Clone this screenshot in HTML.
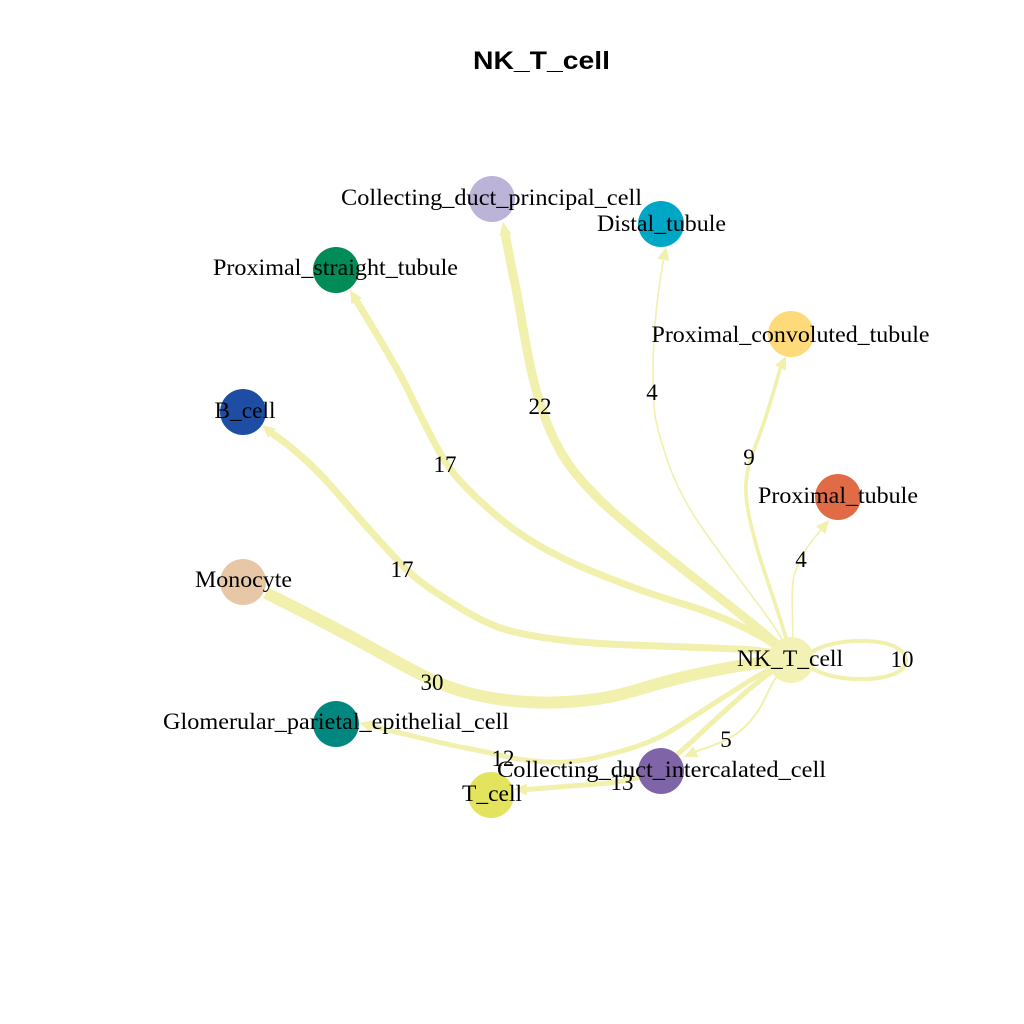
<!DOCTYPE html>
<html>
<head>
<meta charset="utf-8">
<style>
  html, body { margin:0; padding:0; background:#ffffff; }
  svg { display:block; }
  .lab { font-family: "Liberation Serif", "Times New Roman", serif; font-size:23px; fill:#000; }
  .num { font-family: "Liberation Serif", "Times New Roman", serif; font-size:23px; fill:#000; }
  .ttl { font-family: "Liberation Sans", Arial, sans-serif; font-size:25px; font-weight:bold; fill:#000; }
  .e { fill:none; stroke:#F1F0AC; stroke-linejoin:round; stroke-linecap:butt; }
  .a { fill:#F1F0AC; }
</style>
</head>
<body>
<svg width="1024" height="1024" viewBox="0 0 1024 1024" xmlns="http://www.w3.org/2000/svg">
  <rect width="1024" height="1024" fill="#ffffff"/>

  <!-- Title -->
  <text class="ttl" x="541.5" y="69" text-anchor="middle" textLength="137" lengthAdjust="spacingAndGlyphs">NK_T_cell</text>

  <!-- Edges -->
  <!-- 22 -> Collecting_duct_principal_cell -->
  <path class="e" stroke-width="9" d="M791,660 L782,650 Q773,640 746.5,619 Q720,598 700,582.5 Q680,567 646.5,540 Q613,513 599,499 Q585,485 576,474 Q567,463 560,450.5 Q553,438 548,425.5 Q543,413 538,396.5 Q533,380 529,360 Q525,340 521,316.5 Q517,293 513.5,276.5 Q510,260 507.7,247.4 L505.4,234.8"/>
  <polygon class="a" points="503,222 511.3,233.7 499.5,235.9"/>

  <!-- 17 -> Proximal_straight_tubule -->
  <path class="e" stroke-width="7" d="M791,660 L780.5,650 Q770,640 741.5,626.5 Q713,613 686.5,605 Q660,597 636.5,588.5 Q613,580 586.5,569 Q560,558 536.5,544 Q513,530 494,513.5 Q475,497 461,482 Q447,467 433.5,441 Q420,415 410,394 Q400,373 378.4,337 L356.7,301.1"/>
  <polygon class="a" points="350,290 361.8,298 351.6,304.2"/>

  <!-- 17 -> B_cell -->
  <path class="e" stroke-width="7" d="M791,660 L780.5,655 Q770,650 725,648.5 Q680,647 630,645 Q580,643 546.5,638 Q513,633 496.5,626.5 Q480,620 463.5,610 Q447,600 430,588.5 Q413,577 399,562 Q385,547 367.5,527.5 Q350,508 335,490.5 Q320,473 305,459.5 Q290,446 281,439.7 L272,433.3"/>
  <polygon class="a" points="262,425 275.8,428.7 268.2,437.9"/>

  <!-- 30 -> Monocyte -->
  <path class="e" stroke-width="12" d="M791,660 L775.5,661 Q760,662 730,667.5 Q700,673 680,678 Q660,683 635,690.5 Q610,698 585,700.5 Q560,703 540,702.5 Q520,702 501.5,699.5 Q483,697 466.5,692.5 Q450,688 433.5,680.5 Q417,673 383.5,654.5 Q350,636 325,623 Q300,610 283,601.5 L266,593"/>

  <!-- 12 -> Glomerular_parietal_epithelial_cell -->
  <path class="e" stroke-width="5" d="M791,660 L779,665 Q767,670 748.5,681.5 Q730,693 711.5,705 Q693,717 676.5,727.5 Q660,738 643.5,744 Q627,750 607,755 Q587,760 573.5,761.5 Q560,763 540,761.5 Q520,760 503.5,756 Q487,752 468.5,748.5 Q450,745 433.5,741 Q417,737 394.3,731.5 L371.6,726"/>
  <polygon class="a" points="359,723 373,720.2 370.2,731.8"/>

  <!-- 13 -> T_cell -->
  <path class="e" stroke-width="5" d="M791,660 L777,668.5 Q763,677 741.5,696 Q720,715 701.5,732.5 Q683,750 671.5,759 Q660,768 646.5,774 Q633,780 616.5,782 Q600,784 585,785 Q570,786 548.5,787.7 L527,789.5"/>
  <polygon class="a" points="514,789 527.2,783.5 526.8,795.5"/>

  <!-- 5 -> Collecting_duct_intercalated_cell -->
  <path class="e" stroke-width="2" d="M791,660 L782,670 Q773,680 766.5,695 Q760,710 750,721.5 Q740,733 727.5,739 Q715,745 705.4,748.3 L695.8,751.6"/>
  <polygon class="a" points="684,757 693.3,746.1 698.3,757.1"/>

  <!-- 4 -> Distal_tubule -->
  <path class="e" stroke-width="1.6" d="M791,660 L785.5,646.5 Q780,633 755,600 Q730,567 705,532 Q680,497 668.5,463.5 Q657,430 655,415 Q653,400 653,375 Q653,350 655,325 Q657,300 660.2,279.9 L663.4,259.7"/>
  <polygon class="a" points="666,247 669.3,260.9 657.5,258.5"/>

  <!-- 9 -> Proximal_convoluted_tubule -->
  <path class="e" stroke-width="3.6" d="M791,660 L789,650 Q787,640 780,618.5 Q773,597 765,573.5 Q757,550 751,525 Q745,500 746,483.5 Q747,467 755,447 Q763,427 771.8,397.4 L780.5,367.8"/>
  <polygon class="a" points="786,356 785.9,370.4 775.1,365.2"/>

  <!-- 4 -> Proximal_tubule -->
  <path class="e" stroke-width="1.6" d="M791,660 L792,650 Q793,640 792.5,618.5 Q792,597 792.5,587 Q793,577 796.5,568.5 Q800,560 803.5,553.5 Q807,547 813.9,538.5 L820.8,530.1"/>
  <polygon class="a" points="829,520 825.5,533.9 816.1,526.3"/>

  <!-- 10 self loop -->
  <path class="e" stroke-width="4" d="M812,652 C835,636 905,636 906,660 C906,684 835,684 812,668"/>

  <!-- Edge labels -->
  <text class="num" x="540" y="414" text-anchor="middle">22</text>
  <text class="num" x="652" y="400" text-anchor="middle">4</text>
  <text class="num" x="445" y="472" text-anchor="middle">17</text>
  <text class="num" x="402" y="577" text-anchor="middle">17</text>
  <text class="num" x="749" y="465" text-anchor="middle">9</text>
  <text class="num" x="801" y="567" text-anchor="middle">4</text>
  <text class="num" x="902" y="667" text-anchor="middle">10</text>
  <text class="num" x="726" y="747" text-anchor="middle">5</text>
  <text class="num" x="432" y="690" text-anchor="middle">30</text>
  <text class="num" x="503" y="766" text-anchor="middle">12</text>
  <text class="num" x="622" y="790" text-anchor="middle">13</text>

  <!-- Nodes -->
  <circle cx="492" cy="199" r="23" fill="#BCB4D8"/>
  <circle cx="661" cy="224" r="23" fill="#00A6C5"/>
  <circle cx="336" cy="270" r="23" fill="#008B57"/>
  <circle cx="243" cy="412" r="23" fill="#1E4EA3"/>
  <circle cx="791" cy="334" r="23" fill="#FFDA7A"/>
  <circle cx="838" cy="497" r="23" fill="#E06B46"/>
  <circle cx="243" cy="582" r="23" fill="#E8C7A7"/>
  <circle cx="791" cy="660" r="23" fill="#F3F2B4"/>
  <circle cx="336" cy="724" r="23" fill="#008880"/>
  <circle cx="661" cy="771" r="23" fill="#7F65A8"/>
  <circle cx="491" cy="795" r="23" fill="#E4E35E"/>

  <!-- Node labels -->
  <text class="lab" x="491.5" y="205" text-anchor="middle" textLength="301" lengthAdjust="spacingAndGlyphs">Collecting_duct_principal_cell</text>
  <text class="lab" x="661.5" y="231" text-anchor="middle" textLength="129" lengthAdjust="spacingAndGlyphs">Distal_tubule</text>
  <text class="lab" x="335.5" y="275" text-anchor="middle" textLength="245" lengthAdjust="spacingAndGlyphs">Proximal_straight_tubule</text>
  <text class="lab" x="245" y="418" text-anchor="middle" textLength="61" lengthAdjust="spacingAndGlyphs">B_cell</text>
  <text class="lab" x="790.5" y="342" text-anchor="middle" textLength="278" lengthAdjust="spacingAndGlyphs">Proximal_convoluted_tubule</text>
  <text class="lab" x="838" y="503" text-anchor="middle" textLength="160" lengthAdjust="spacingAndGlyphs">Proximal_tubule</text>
  <text class="lab" x="243.5" y="587" text-anchor="middle" textLength="97" lengthAdjust="spacingAndGlyphs">Monocyte</text>
  <text class="lab" x="790" y="666" text-anchor="middle" textLength="106" lengthAdjust="spacingAndGlyphs">NK_T_cell</text>
  <text class="lab" x="336" y="729" text-anchor="middle" textLength="346" lengthAdjust="spacingAndGlyphs">Glomerular_parietal_epithelial_cell</text>
  <text class="lab" x="661.5" y="777" text-anchor="middle" textLength="329" lengthAdjust="spacingAndGlyphs">Collecting_duct_intercalated_cell</text>
  <text class="lab" x="492" y="801" text-anchor="middle" textLength="60" lengthAdjust="spacingAndGlyphs">T_cell</text>
</svg>
</body>
</html>
